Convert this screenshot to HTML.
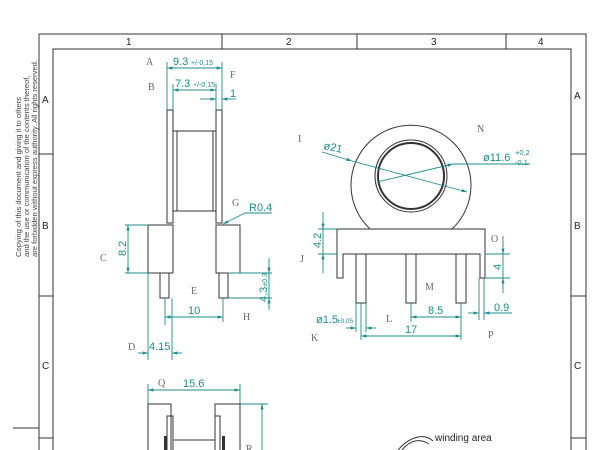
<!DOCTYPE html>
<html><head><meta charset="utf-8"><style>
html,body{margin:0;padding:0;background:#fff;}
svg{display:block;}
.d{stroke:#1d8c8c;stroke-width:0.9;fill:none}
.t{fill:#1d8c8c;font-family:"Liberation Sans",sans-serif;font-size:11px}
.l{fill:#666;font-family:"Liberation Serif",serif;font-size:10px}
.k{stroke:#333;stroke-width:1;fill:none}
.b{stroke:#333;stroke-width:1;fill:none}
.bt{fill:#222;font-family:"Liberation Sans",sans-serif;font-size:10px}
</style></head><body>
<svg width="600" height="450" viewBox="0 0 600 450">
<defs>
<marker id="a" viewBox="0 0 10 10" refX="10" refY="5" markerWidth="6" markerHeight="6" orient="auto-start-reverse"><path d="M0,2 L10,5 L0,8 z" fill="#1d8c8c"/></marker>
</defs>
<!-- frame -->
<path class="b" d="M39,450 V34 H586 V450 M53,450 V49 H571 V450"/>
<path class="b" d="M222,34 V49 M357,34 V49 M506,34 V49 M39,154 H53 M39,296 H53 M39,438 H53 M571,154 H586 M571,296 H586 M571,438 H586 M13,428 H39"/>
<text class="bt" x="126" y="45">1</text><text class="bt" x="286" y="45">2</text><text class="bt" x="431" y="45">3</text><text class="bt" x="538" y="45">4</text>
<text class="bt" x="42" y="103">A</text><text class="bt" x="42" y="229">B</text><text class="bt" x="42" y="369">C</text>
<text class="bt" x="574" y="99">A</text><text class="bt" x="574" y="229">B</text><text class="bt" x="574" y="369">C</text>
<g transform="translate(21,257) rotate(-90)" style="font-family:'Liberation Sans',sans-serif;font-size:7.6px;fill:#444">
<text x="0" y="0">Copying of this document and giving it to others</text>
<text x="0" y="8">and the use or communication of the contents thereof,</text>
<text x="0" y="16">are forbidden without express authority. All rights reserved.</text>
</g>
<!-- side view -->
<path class="k" d="M167,110 V223 H173 V110 Z M216,110 V223 H222 V110 Z"/>
<path class="k" d="M173,131 H216 M173,211 H216 M177,131 V211 M213,131 V211"/>
<path class="k" d="M148,225 H173 V273 H148 Z M216,225 H240 V273 H216 Z"/>
<path class="k" d="M160,273 V298 H169 V273 M219,273 V298 H228 V273"/>
<!-- side dims -->
<path class="d" d="M167,110 V62 M222,110 V62 M173,110 V84 M216,110 V84"/>
<line class="d" x1="167" y1="68" x2="222" y2="68" marker-start="url(#a)" marker-end="url(#a)"/>
<text class="t" x="173" y="65">9.3</text><text class="t" x="191" y="65" style="font-size:7px">+/-0,15</text>
<line class="d" x1="173" y1="90" x2="216" y2="90" marker-start="url(#a)" marker-end="url(#a)"/>
<text class="t" x="175" y="87">7.3</text><text class="t" x="193" y="87" style="font-size:7px">+/-0,15</text>
<line class="d" x1="200" y1="99" x2="216" y2="99" marker-end="url(#a)"/><line class="d" x1="236" y1="99" x2="222" y2="99" marker-end="url(#a)"/>
<text class="t" x="230" y="97">1</text>
<path class="d" d="M125,225 H148 M125,273 H148"/>
<line class="d" x1="128" y1="225" x2="128" y2="273" marker-start="url(#a)" marker-end="url(#a)"/>
<text class="t" transform="translate(126,256) rotate(-90)">8.2</text>
<path class="d" d="M228,273 H272 M228,298 H272"/>
<line class="d" x1="269" y1="258" x2="269" y2="273" marker-end="url(#a)"/><line class="d" x1="269" y1="310" x2="269" y2="298" marker-end="url(#a)"/>
<line class="d" x1="269" y1="273" x2="269" y2="298"/>
<text class="t" transform="translate(267,302) rotate(-90)">4.3<tspan style="font-size:7px">±0.3</tspan></text>
<path class="d" d="M165,298 V325 M223,298 V322"/>
<line class="d" x1="165" y1="317" x2="223" y2="317" marker-start="url(#a)" marker-end="url(#a)"/>
<text class="t" x="188" y="314">10</text>
<path class="d" d="M148,273 V360 M172,298 V360"/>
<line class="d" x1="138" y1="353" x2="148" y2="353" marker-end="url(#a)"/><line class="d" x1="182" y1="353" x2="172" y2="353" marker-end="url(#a)"/>
<text class="t" x="149" y="350">4.15</text>
<line class="d" x1="245" y1="213" x2="223" y2="224" marker-end="url(#a)"/><line class="d" x1="245" y1="213" x2="272" y2="213"/>
<text class="t" x="249" y="211">R0.4</text>
<text class="l" x="146" y="65">A</text><text class="l" x="148" y="90">B</text><text class="l" x="230" y="78">F</text><text class="l" x="232" y="206">G</text>
<text class="l" x="100" y="261">C</text><text class="l" x="191" y="294">E</text><text class="l" x="243" y="320">H</text><text class="l" x="128" y="350">D</text>
<!-- front view -->
<path class="k" d="M370,229 A60,60 0 1 1 452,229"/>
<circle cx="411" cy="176" r="36" fill="none" stroke="#333" stroke-width="1"/>
<circle cx="411" cy="176" r="33" fill="none" stroke="#333" stroke-width="2"/>
<path class="k" d="M337,229 H485 V278 H480 V254 H343 V278 H337 Z"/>
<path class="k" d="M356,254 V303 H366 V254 M406,254 V303 H416 V254 M456,254 V303 H466 V254"/>
<!-- front dims -->
<line class="d" x1="322" y1="152" x2="352" y2="161" marker-end="url(#a)"/>
<line class="d" x1="352" y1="161" x2="467" y2="192" marker-end="url(#a)"/>
<text class="t" transform="translate(323,149) rotate(12)">ø21</text>
<line class="d" x1="377" y1="182" x2="453" y2="164" marker-end="url(#a)"/>
<line class="d" x1="453" y1="164" x2="530" y2="164"/>
<text class="t" x="483" y="161">ø11.6</text><text class="t" x="515" y="155" style="font-size:7.5px">+0,2</text><text class="t" x="515" y="165" style="font-size:7.5px">-0,1</text>
<path class="d" d="M318,229 H337 M318,254 H337"/>
<line class="d" x1="323" y1="212" x2="323" y2="229" marker-end="url(#a)"/><line class="d" x1="323" y1="273" x2="323" y2="254" marker-end="url(#a)"/><line class="d" x1="323" y1="229" x2="323" y2="254"/>
<text class="t" transform="translate(321,248) rotate(-90)">4.2</text>
<path class="d" d="M485,254 H510 M485,278 H510"/>
<line class="d" x1="503" y1="236" x2="503" y2="254" marker-end="url(#a)"/><line class="d" x1="503" y1="293" x2="503" y2="278" marker-end="url(#a)"/><line class="d" x1="503" y1="254" x2="503" y2="278"/>
<text class="t" transform="translate(501,270) rotate(-90)">4</text>
<path class="d" d="M479,278 V320 M484,278 V320"/>
<line class="d" x1="468" y1="313" x2="479" y2="313" marker-end="url(#a)"/><line class="d" x1="496" y1="313" x2="484" y2="313" marker-end="url(#a)"/><line class="d" x1="484" y1="313" x2="512" y2="313"/>
<text class="t" x="494" y="311">0.9</text>
<path class="d" d="M411,303 V322 M461,303 V340 M361,303 V340 M356,303 V332 M366,303 V332"/>
<line class="d" x1="411" y1="317" x2="461" y2="317" marker-start="url(#a)" marker-end="url(#a)"/>
<text class="t" x="428" y="314">8.5</text>
<line class="d" x1="346" y1="328" x2="356" y2="328" marker-end="url(#a)"/><line class="d" x1="376" y1="328" x2="366" y2="328" marker-end="url(#a)"/>
<text class="t" x="316" y="323">ø1.5</text><text class="t" x="337" y="323" style="font-size:6.5px">±0,05</text>
<line class="d" x1="361" y1="336" x2="461" y2="336" marker-start="url(#a)" marker-end="url(#a)"/>
<text class="t" x="405" y="333">17</text>
<text class="l" x="298" y="142">I</text><text class="l" x="477" y="132">N</text><text class="l" x="491" y="242">O</text><text class="l" x="300" y="262">J</text>
<text class="l" x="425" y="290">M</text><text class="l" x="386" y="322">L</text><text class="l" x="311" y="341">K</text><text class="l" x="488" y="338">P</text>
<!-- bottom view -->
<path class="d" d="M148,384 V450 M240,384 V404 M240,404 H268"/>
<line class="d" x1="148" y1="390" x2="240" y2="390" marker-start="url(#a)" marker-end="url(#a)"/>
<text class="t" x="183" y="387">15.6</text>
<line class="d" x1="262" y1="450" x2="262" y2="404" marker-end="url(#a)"/>
<text class="l" x="158" y="386">Q</text><text class="l" x="246" y="452">R</text>
<path class="k" d="M148,450 V404 H171 V450 M240,450 V404 H215 V450"/>
<path class="k" d="M167,450 V416 H173 V450 M220,450 V416 H215"/>
<path class="k" d="M174,440 H215"/>
<rect x="164" y="436" width="3" height="14" fill="#333"/><rect x="222" y="436" width="3" height="14" fill="#333"/>
<!-- winding area -->
<path d="M433,441 C425,433 410,436 398,450" fill="none" stroke="#333" stroke-width="1"/>
<path d="M429,444 C420,438 410,440 402,450" fill="none" stroke="#333" stroke-width="1"/>
<text x="435" y="441" style="font-family:'Liberation Sans',sans-serif;font-size:10px;fill:#222">winding area</text>
</svg>
</body></html>
